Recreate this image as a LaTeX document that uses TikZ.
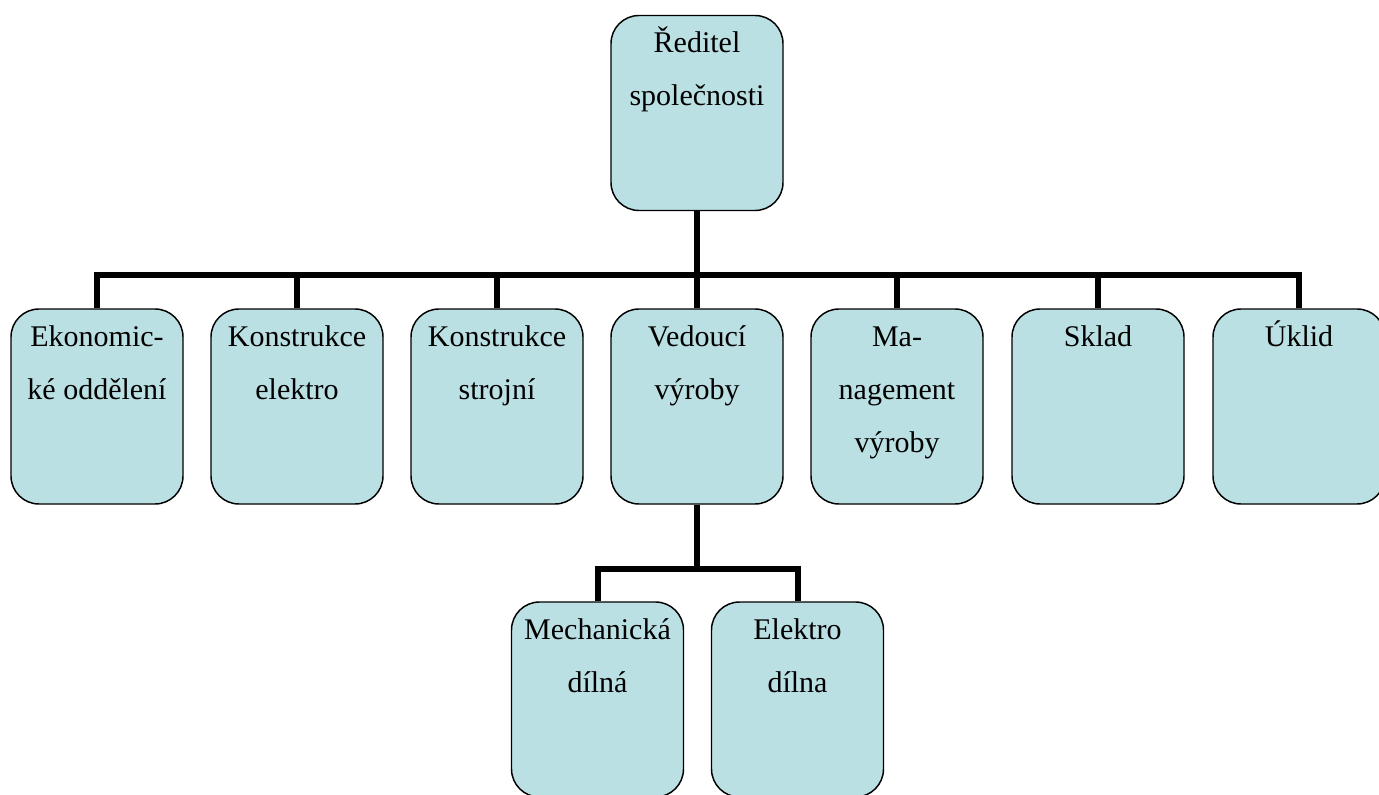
\documentclass[tikz,border=0pt]{standalone}
\usepackage{fontspec}
\setmainfont{Liberation Serif}
\definecolor{boxfill}{HTML}{BBE0E3}
% box contents: text starts at the top of the box, centred line by line
\newcommand\orgtext[1]{\parbox[c][146.25pt][t]{129pt}{\centering\strut#1\par}}
\begin{document}
\begin{tikzpicture}[x=0.75pt, y=-0.75pt,
  orgbox/.style={draw=black, line width=1.1pt, fill=boxfill, rounded corners=21pt,
    inner sep=0pt, minimum width=129pt, minimum height=146.25pt,
    font=\fontsize{22.5pt}{39.75pt}\selectfont},
  conn/.style={draw=black, line width=4.5pt, line join=miter}]
\useasboundingbox (0,0) rectangle (1379,795);
\fill[white] (0,0) rectangle (1379,795);
\clip (0,0) rectangle (1379,795);

% top level
\node[orgbox] (ceo) at (697,113) {\orgtext{Ředitel\\společnosti}};

% second level
\node[orgbox] (eko) at (97,406.5)   {\orgtext{Ekonomic-\\ké oddělení}};
\node[orgbox] (kel) at (297,406.5)  {\orgtext{Konstrukce\\elektro}};
\node[orgbox] (kst) at (497,406.5)  {\orgtext{Konstrukce\\strojní}};
\node[orgbox] (ved) at (697,406.5)  {\orgtext{Vedoucí\\výroby}};
\node[orgbox] (man) at (897,406.5)  {\orgtext{Ma-\\nagement\\výroby}};
\node[orgbox] (skl) at (1098,406.5) {\orgtext{Sklad}};
\node[orgbox] (ukl) at (1299,406.5) {\orgtext{Úklid}};

% third level
\node[orgbox] (mech) at (597.5,699.5) {\orgtext{Mechanická\\dílná}};
\node[orgbox] (eld)  at (797.5,699.5) {\orgtext{Elektro\\dílna}};

% connectors
\coordinate (bar) at (697,275);
\draw[conn] (ceo.south) -- (bar);
\draw[conn] (eko.north) |- (bar) -| (ukl.north);
\draw[conn] (kel.north) -- (kel.north |- bar);
\draw[conn] (kst.north) -- (kst.north |- bar);
\draw[conn] (ved.north) -- (ved.north |- bar);
\draw[conn] (man.north) -- (man.north |- bar);
\draw[conn] (skl.north) -- (skl.north |- bar);

\coordinate (sub) at (697,569);
\draw[conn] (ved.south) -- (sub);
\draw[conn] (mech.north) |- (sub) -| (eld.north);
\end{tikzpicture}
\end{document}
